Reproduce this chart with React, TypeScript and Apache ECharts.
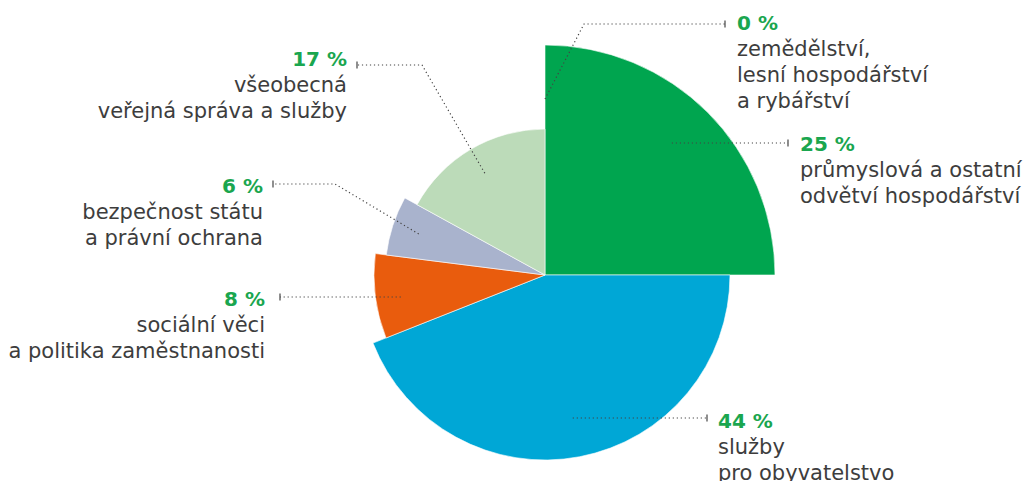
import React, { useEffect, useRef } from "react";
import * as echarts from "echarts";

// ---- data ----
const categories: string[][] = [
  ["zemědělství,", "lesní hospodářství", "a rybářství"],
  ["průmyslová a ostatní", "odvětví hospodářství"],
  ["služby", "pro obyvatelstvo"],
  ["sociální věci", "a politika zaměstnanosti"],
  ["bezpečnost státu", "a právní ochrana"],
  ["všeobecná", "veřejná správa a služby"],
];
const values: number[] = [0, 25, 44, 8, 6, 17];

// ---- styles / layout ----
const sliceColors = ["#00a54f", "#00a54f", "#00a7d6", "#e95c0d", "#a9b3cd", "#bcdbb9"];
const sliceRadius = [220, 230, 185, 171, 160, 146];
const CENTER: [number, number] = [545, 275];
const FONT = "DejaVu Sans";
const PCT_COLOR = "#1aa64f";
const TEXT_COLOR = "#3d3d3d";
const LINE_COLOR = "#444";

type LabelLayout = {
  rf: number; // leader start as fraction of slice radius
  elbow: [number, number] | null;
  tick: [number, number];
  text: [number, number]; // anchor x, center y of first line
  align: "left" | "right";
};
const labelLayouts: LabelLayout[] = [
  { rf: 0.8, elbow: [584, 24], tick: [725, 24], text: [737, 22.5], align: "left" },
  { rf: 0.78, elbow: null, tick: [788, 143], text: [800, 144], align: "left" },
  { rf: 0.8, elbow: null, tick: [707, 418], text: [718, 420.5], align: "left" },
  { rf: 0.85, elbow: null, tick: [280, 297], text: [265, 299], align: "right" },
  { rf: 0.83, elbow: [335, 184], tick: [273, 184], text: [263, 186], align: "right" },
  { rf: 0.81, elbow: [422, 65], tick: [357, 65], text: [347, 59], align: "right" },
];

export default function App() {
  const ref = useRef<HTMLDivElement>(null);
  useEffect(() => {
    if (!ref.current) return;
    const chart = echarts.init(ref.current, undefined, { renderer: "svg" });
    const total = values.reduce((a, b) => a + b, 0);

    const series: any[] = values.map((v, i) => ({
      type: "pie",
      center: CENTER,
      radius: [0, sliceRadius[i]],
      startAngle: 90,
      clockwise: true,
      silent: true,
      z: 2,
      label: { show: false },
      labelLine: { show: false },
      emphasis: { disabled: true },
      data: values.map((w, j) => ({
        value: w,
        name: categories[j].join(" "),
        itemStyle:
          j === i && w > 0
            ? { color: sliceColors[j], borderColor: "#ffffff", borderWidth: 0.6 }
            : { color: "rgba(0,0,0,0)", borderWidth: 0 },
      })),
    }));

    const graphics: any[] = [];
    let cum = 0;
    values.forEach((v, i) => {
      const mid = ((cum + v / 2) / total) * 2 * Math.PI;
      cum += v;
      const L = labelLayouts[i];
      const r = sliceRadius[i] * L.rf;
      const sx = CENTER[0] + r * Math.sin(mid);
      const sy = CENTER[1] - r * Math.cos(mid);
      const pts: number[][] = L.elbow
        ? [[sx, sy], L.elbow, L.tick]
        : [[sx, L.tick[1]], L.tick];
      graphics.push({
        type: "polyline",
        silent: true,
        z: 10,
        shape: { points: pts },
        style: { stroke: LINE_COLOR, lineWidth: 1.2, lineDash: [1.2, 2.8], fill: null },
      });
      graphics.push({
        type: "line",
        silent: true,
        z: 10,
        shape: { x1: L.tick[0], y1: L.tick[1] - 3.5, x2: L.tick[0], y2: L.tick[1] + 3.5 },
        style: { stroke: LINE_COLOR, lineWidth: 1.2 },
      });
      const text =
        `{p|${v} %}\n` + categories[i].map((c) => `{d|${c}}`).join("\n");
      graphics.push({
        type: "text",
        silent: true,
        z: 10,
        x: L.text[0],
        y: L.text[1] - 13,
        style: {
          text,
          align: L.align,
          verticalAlign: "top",
          rich: {
            p: { fontSize: 20, fontWeight: "bold", fill: PCT_COLOR, lineHeight: 26, fontFamily: FONT, align: L.align },
            d: { fontSize: 21, fill: TEXT_COLOR, lineHeight: 26, fontFamily: FONT, align: L.align },
          },
        },
      });
    });

    chart.setOption({
      animation: false,
      backgroundColor: "#ffffff",
      series,
      graphic: graphics,
    });
    return () => chart.dispose();
  }, []);
  return (
    <div
      ref={ref}
      style={{ position: "fixed", left: 0, top: 0, width: 1026, height: 481 }}
    />
  );
}
